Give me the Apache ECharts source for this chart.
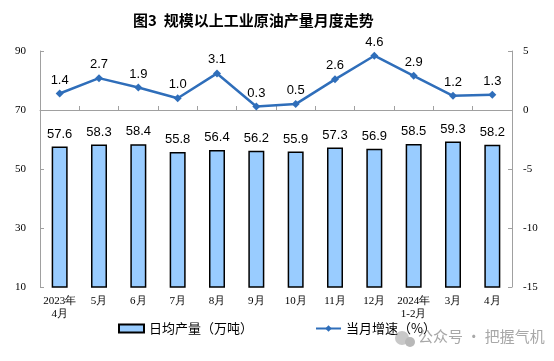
<!DOCTYPE html>
<html><head><meta charset="utf-8">
<script src="https://cdn.jsdelivr.net/npm/echarts@6/dist/echarts.min.js"></script>
<style>html,body{margin:0;padding:0;background:#fff}#c{width:554px;height:361px}</style>
</head><body><div id="c"></div>
<script>
var categories = ['2023年\n4月','5月','6月','7月','8月','9月','10月','11月','12月','2024年\n1-2月','3月','4月'];
var dailyOutput = [57.6,58.3,58.4,55.8,56.4,56.2,55.9,57.3,56.9,58.5,59.3,58.2];
var growth = [1.4,2.7,1.9,1.0,3.1,0.3,0.5,2.6,4.6,2.9,1.2,1.3];
var leftTicks = {min:10,max:90,interval:20};
var rightTicks = {min:-15,max:5,interval:5};

var chart = echarts.init(document.getElementById('c'));
var serif = '"Liberation Serif","Times New Roman",serif';
var sans = '"Liberation Sans",Arial,"Noto Sans CJK SC",sans-serif';
var fmt1 = function(p){ return Number(p.value).toFixed(1); };
chart.setOption({
  animation:false,
  title:{text:'图3  规模以上工业原油产量月度走势',left:128,top:8,
    textStyle:{fontSize:15,fontWeight:'bold',color:'#000',fontFamily:'"Noto Sans CJK SC",sans-serif'}},
  grid:{left:40,right:42,top:51,bottom:74},
  legend:{bottom:21,left:113,itemGap:62,itemWidth:25,itemHeight:8,
    textStyle:{fontSize:13,color:'#000',fontFamily:'"Noto Sans CJK SC",sans-serif'},
    data:[{name:'日均产量（万吨）',icon:'rect'},{name:'当月增速（%）'}]},
  xAxis:{type:'category',data:categories,
    axisLine:{lineStyle:{color:'#A0A0A0'}},
    axisTick:{show:true,length:4,inside:true,lineStyle:{color:'#A0A0A0'}},
    axisLabel:{color:'#000',fontSize:11,fontFamily:serif,lineHeight:13,margin:8,interval:0}},
  yAxis:[
    {type:'value',min:leftTicks.min,max:leftTicks.max,interval:leftTicks.interval,
     splitLine:{show:false},
     axisLine:{show:true,lineStyle:{color:'#A0A0A0'}},
     axisTick:{show:true,length:4,inside:true,lineStyle:{color:'#A0A0A0'}},
     axisLabel:{color:'#000',fontSize:11,fontFamily:serif,margin:14}},
    {type:'value',min:rightTicks.min,max:rightTicks.max,interval:rightTicks.interval,
     splitLine:{show:false},
     axisLine:{show:true,lineStyle:{color:'#A0A0A0'}},
     axisTick:{show:true,length:4,inside:true,lineStyle:{color:'#A0A0A0'}},
     axisLabel:{color:'#000',fontSize:11,fontFamily:serif,margin:11}}
  ],
  series:[
    {name:'日均产量（万吨）',type:'bar',data:dailyOutput,barWidth:16,yAxisIndex:0,
     itemStyle:{color:'#99CCFF',borderColor:'#000',borderWidth:1.5},
     label:{show:true,position:'top',distance:6,color:'#000',fontSize:13,fontFamily:sans,formatter:fmt1}},
    {name:'当月增速（%）',type:'line',data:growth,yAxisIndex:1,
     symbol:'diamond',symbolSize:8,
     lineStyle:{color:'#2F6EBA',width:2.5},
     itemStyle:{color:'#2F6EBA'},
     label:{show:true,position:'top',distance:3,color:'#000',fontSize:13,fontFamily:sans,formatter:fmt1}}
  ],
  graphic:[
    {type:'circle',shape:{cx:402,cy:338,r:7},style:{fill:'#c8c8c8'}},
    {type:'circle',shape:{cx:410,cy:342,r:5},style:{fill:'#b8b8b8'}},
    {type:'text',left:418,top:329,style:{text:'公众号 · 把握气机',fill:'#a8a8a8',fontSize:15,
      fontFamily:'"Noto Sans CJK SC",sans-serif'}}
  ]
});
</script></body></html>
